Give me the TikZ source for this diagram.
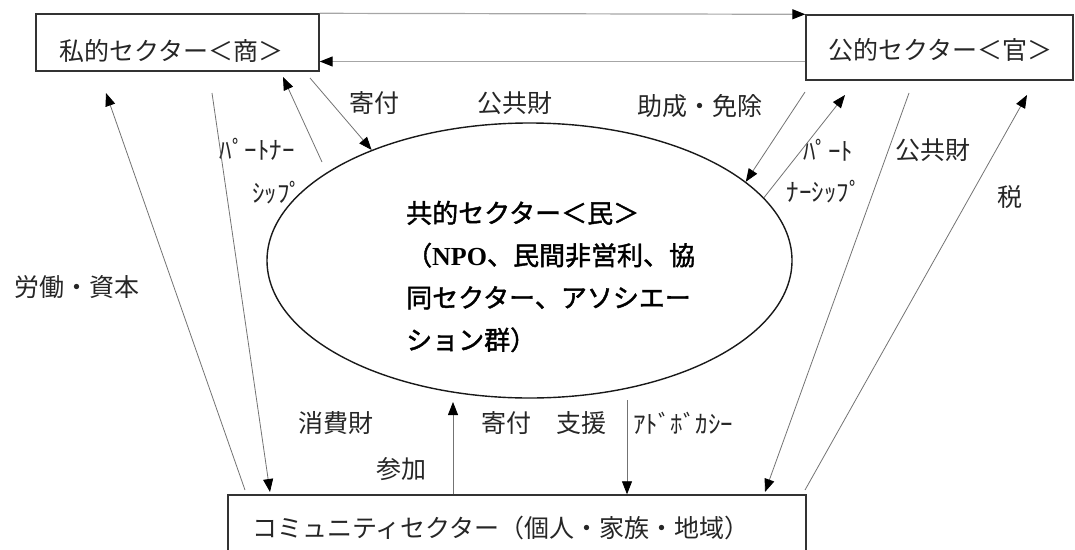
\documentclass[tikz,border=0pt]{standalone}
\usepackage{fontspec}
\setmainfont{Noto Sans CJK JP}
\newfontfamily\latserif{Liberation Serif}
\newfontfamily\ellfont[FakeBold=1.6]{Noto Sans CJK JP}
\usetikzlibrary{arrows.meta,shapes.geometric}
\begin{document}
\begin{tikzpicture}[x=1pt,y=-1pt,
  box/.style={draw=black!80, line width=1.4pt, inner sep=0pt},
  lbl/.style={font=\fontsize{25}{30}\selectfont, text=black!85, inner sep=0pt},
  conn/.style={draw=black!55, line width=0.8pt},
  arr/.style={conn, -{Triangle[length=13pt,width=10pt,color=black]}},
  toparr/.style={draw=black!35, line width=1.2pt, -{Triangle[length=13pt,width=10pt,color=black]}}
]
\useasboundingbox (0,0) rectangle (1075,549);
\clip (0,0) rectangle (1075,549);

% boxes
\node[box, minimum width=283, minimum height=57] (priv) at (177.5,42.5) {};
\node[lbl] (privt) at (171,51) {私的セクター＜商＞};
\node[box, minimum width=267, minimum height=65] (pub) at (939.5,47.5) {};
\node[lbl] (pubt) at (940,50) {公的セクター＜官＞};
\node[box, minimum width=578, minimum height=110] (comm) at (517,550) {};
\node[lbl] (commt) at (501,528) {コミュニティセクター（個人・家族・地域）};

% ellipse
\node[ellipse, draw=black!90, line width=1.4pt, minimum width=525, minimum height=275, inner sep=0pt] (ell) at (529.5,260.5) {};
\node[font=\ellfont\fontsize{26}{42.3}\selectfont, align=left, anchor=west, inner sep=0pt] (ellt) at (406,276.5)
  {共的セクター＜民＞\\（{\latserif\bfseries NPO}、民間非営利、協\\同セクター、アソシエー\\ション群）};

% labels
\node[lbl] (l1) at (374,103) {寄付};
\node[lbl] (l2) at (515,103) {公共財};
\node[lbl] (l3) at (700,106) {助成・免除};
\node[lbl] (l4) at (257,149) {ﾊﾟｰﾄﾅｰ};
\node[lbl] (l5) at (277,193) {ｼｯﾌﾟ};
\node[lbl] (l6) at (828,150) {ﾊﾟｰﾄ};
\node[lbl] (l7) at (824,192) {ﾅｰｼｯﾌﾟ};
\node[lbl] (l8) at (933,150) {公共財};
\node[lbl] (l9) at (1010,197) {税};
\node[lbl] (l10) at (77,287) {労働・資本};
\node[lbl] (l11) at (336,423) {消費財};
\node[lbl] (l12) at (401,469) {参加};
\node[lbl] (l13) at (544,423) {寄付　支援};
\node[lbl, anchor=west] (l14) at (633,423) {ｱﾄﾞﾎﾞｶｼｰ};

% free ends
\coordinate (a1) at (310,78);
\coordinate (p1s) at (322,162);
\coordinate (p1e) at (283,77);
\coordinate (c1s) at (212,93);
\coordinate (c1e) at (270,492);
\coordinate (w1s) at (245,490);
\coordinate (w1e) at (106,93);
\coordinate (g1s) at (805,92);
\coordinate (p2e) at (845,95);
\coordinate (k2s) at (909,93);
\coordinate (k2e) at (765,492);
\coordinate (t1s) at (805,490);
\coordinate (t1e) at (1027,95);
\coordinate (s1e) at (453,402);
\coordinate (ad1) at (627,400);

% connectors
\draw[toparr] (priv.north east) -- (pub.north west);
\draw[toparr] ([yshift=-14pt]pub.west) -- ([yshift=-19pt]priv.east);
\draw[arr] (a1) -- (ell.145.3);
\draw[arr] (p1s) -- (p1e);
\draw[arr] (c1s) -- (c1e);
\draw[arr] (w1s) -- (w1e);
\draw[arr] (g1s) -- (ell.20.8);
\draw[arr] (ell.15.7) -- (p2e);
\draw[arr] (k2s) -- (k2e);
\draw[arr] (t1s) -- (t1e);
\draw[arr] (s1e |- comm.north) -- (s1e);
\draw[arr] (ad1) -- (ad1 |- comm.north);
\end{tikzpicture}
\end{document}
